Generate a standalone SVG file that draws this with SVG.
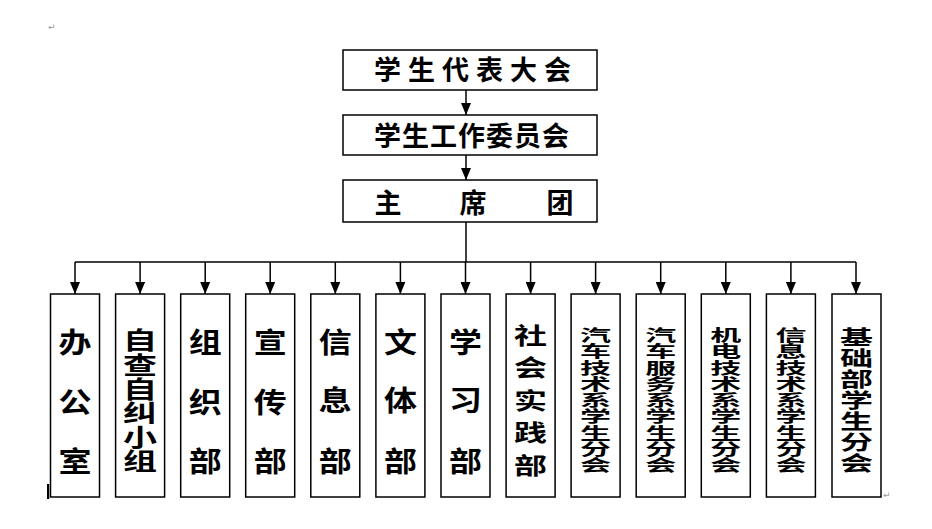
<svg xmlns="http://www.w3.org/2000/svg" width="932" height="529" viewBox="0 0 932 529">
<style>
.box{fill:#fff;stroke:#000;stroke-width:1.5}
.ln{fill:none;stroke:#000;stroke-width:1.5}
.t{font-family:"Noto Sans CJK SC","Noto Sans CJK JP",sans-serif;font-weight:bold;fill:#000}
.h{font-size:27px}
.v3{font-size:33px;text-anchor:middle}
.mk{font-family:"DejaVu Sans",sans-serif;font-size:9px;fill:#999}
</style>
<defs>
<marker id="ah" viewBox="0 0 12 10" refX="12" refY="5" markerWidth="12" markerHeight="10" markerUnits="userSpaceOnUse" orient="auto">
<path d="M0,0 L12,5 L0,10 z" fill="#000"/>
</marker>
</defs>
<rect width="932" height="529" fill="#fff"/>
<text class="mk" x="48" y="30">↵</text>
<text class="mk" x="883" y="498">↵</text>
<rect x="47" y="484" width="2.2" height="15" fill="#000"/>

<g id="connectors">
<line class="ln" x1="466" y1="90" x2="466" y2="115" marker-end="url(#ah)"/>
<line class="ln" x1="466" y1="155" x2="466" y2="180" marker-end="url(#ah)"/>
<line class="ln" x1="466" y1="222" x2="466" y2="262"/>
<line class="ln" x1="75" y1="262" x2="856" y2="262"/>
<line class="ln" x1="75" y1="262" x2="75" y2="294" marker-end="url(#ah)"/>
<line class="ln" x1="140.1" y1="262" x2="140.1" y2="294" marker-end="url(#ah)"/>
<line class="ln" x1="205.2" y1="262" x2="205.2" y2="294" marker-end="url(#ah)"/>
<line class="ln" x1="270.2" y1="262" x2="270.2" y2="294" marker-end="url(#ah)"/>
<line class="ln" x1="335.3" y1="262" x2="335.3" y2="294" marker-end="url(#ah)"/>
<line class="ln" x1="400.4" y1="262" x2="400.4" y2="294" marker-end="url(#ah)"/>
<line class="ln" x1="465.5" y1="262" x2="465.5" y2="294" marker-end="url(#ah)"/>
<line class="ln" x1="530.6" y1="262" x2="530.6" y2="294" marker-end="url(#ah)"/>
<line class="ln" x1="595.6" y1="262" x2="595.6" y2="294" marker-end="url(#ah)"/>
<line class="ln" x1="660.7" y1="262" x2="660.7" y2="294" marker-end="url(#ah)"/>
<line class="ln" x1="725.8" y1="262" x2="725.8" y2="294" marker-end="url(#ah)"/>
<line class="ln" x1="790.9" y1="262" x2="790.9" y2="294" marker-end="url(#ah)"/>
<line class="ln" x1="856" y1="262" x2="856" y2="294" marker-end="url(#ah)"/>
</g>

<g id="n-congress">
<rect class="box" x="343" y="50" width="254" height="40"/>
<text class="t h" x="374" y="80" letter-spacing="7">学生代表大会</text>
</g>
<g id="n-committee">
<rect class="box" x="343" y="115" width="254" height="40"/>
<text class="t h" x="374" y="146" letter-spacing="1">学生工作委员会</text>
</g>
<g id="n-presidium">
<rect class="box" x="343" y="180" width="254" height="42"/>
<text class="t h" x="388" y="213" text-anchor="middle">主</text>
<text class="t h" x="473" y="213" text-anchor="middle">席</text>
<text class="t h" x="560" y="213" text-anchor="middle">团</text>
</g>

<g id="n1">
<rect class="box" x="50.5" y="294" width="49" height="203"/>
<text class="t v3" transform="translate(75,353) scale(1,0.85)">办</text>
<text class="t v3" transform="translate(75,413) scale(1,0.85)">公</text>
<text class="t v3" transform="translate(75,472) scale(1,0.85)">室</text>
</g>
<g id="n2">
<rect class="box" x="115.6" y="294" width="49" height="203"/>
<text class="t" font-size="34" text-anchor="middle" transform="translate(140.1,349.3) scale(1,0.71)">自</text>
<text class="t" font-size="34" text-anchor="middle" transform="translate(140.1,373.5) scale(1,0.71)">查</text>
<text class="t" font-size="34" text-anchor="middle" transform="translate(140.1,397.6) scale(1,0.71)">自</text>
<text class="t" font-size="34" text-anchor="middle" transform="translate(140.1,421.8) scale(1,0.71)">纠</text>
<text class="t" font-size="34" text-anchor="middle" transform="translate(140.1,445.9) scale(1,0.71)">小</text>
<text class="t" font-size="34" text-anchor="middle" transform="translate(140.1,470.1) scale(1,0.71)">组</text>
</g>
<g id="n3">
<rect class="box" x="180.7" y="294" width="49" height="203"/>
<text class="t v3" transform="translate(205.2,353) scale(1,0.85)">组</text>
<text class="t v3" transform="translate(205.2,413) scale(1,0.85)">织</text>
<text class="t v3" transform="translate(205.2,472) scale(1,0.85)">部</text>
</g>
<g id="n4">
<rect class="box" x="245.7" y="294" width="49" height="203"/>
<text class="t v3" transform="translate(270.2,353) scale(1,0.85)">宣</text>
<text class="t v3" transform="translate(270.2,413) scale(1,0.85)">传</text>
<text class="t v3" transform="translate(270.2,472) scale(1,0.85)">部</text>
</g>
<g id="n5">
<rect class="box" x="310.8" y="294" width="49" height="203"/>
<text class="t v3" transform="translate(335.3,353) scale(1,0.85)">信</text>
<text class="t v3" transform="translate(335.3,411) scale(1,0.85)">息</text>
<text class="t v3" transform="translate(335.3,472) scale(1,0.85)">部</text>
</g>
<g id="n6">
<rect class="box" x="375.9" y="294" width="49" height="203"/>
<text class="t v3" transform="translate(400.4,353) scale(1,0.85)">文</text>
<text class="t v3" transform="translate(400.4,411) scale(1,0.85)">体</text>
<text class="t v3" transform="translate(400.4,472) scale(1,0.85)">部</text>
</g>
<g id="n7">
<rect class="box" x="441" y="294" width="49" height="203"/>
<text class="t v3" transform="translate(465.5,353) scale(1,0.85)">学</text>
<text class="t v3" transform="translate(465.5,411) scale(1,0.85)">习</text>
<text class="t v3" transform="translate(465.5,472) scale(1,0.85)">部</text>
</g>
<g id="n8">
<rect class="box" x="506.1" y="294" width="49" height="203"/>
<text class="t" font-size="33" text-anchor="middle" transform="translate(530.6,343.5) scale(1,0.68)">社</text>
<text class="t" font-size="33" text-anchor="middle" transform="translate(530.6,376) scale(1,0.68)">会</text>
<text class="t" font-size="33" text-anchor="middle" transform="translate(530.6,408.5) scale(1,0.68)">实</text>
<text class="t" font-size="33" text-anchor="middle" transform="translate(530.6,441) scale(1,0.68)">践</text>
<text class="t" font-size="33" text-anchor="middle" transform="translate(530.6,473.5) scale(1,0.68)">部</text>
</g>
<g id="n9">
<rect class="box" x="571.1" y="294" width="49" height="203"/>
<g class="t" font-size="31" text-anchor="middle">
<text transform="translate(595.6,341.1) scale(1,0.52)">汽</text>
<text transform="translate(595.6,357.4) scale(1,0.52)">车</text>
<text transform="translate(595.6,373.6) scale(1,0.52)">技</text>
<text transform="translate(595.6,389.9) scale(1,0.52)">术</text>
<text transform="translate(595.6,406.1) scale(1,0.52)">系</text>
<text transform="translate(595.6,422.4) scale(1,0.52)">学</text>
<text transform="translate(595.6,438.6) scale(1,0.52)">生</text>
<text transform="translate(595.6,454.9) scale(1,0.52)">分</text>
<text transform="translate(595.6,471.1) scale(1,0.52)">会</text>
</g>
</g>
<g id="n10">
<rect class="box" x="636.2" y="294" width="49" height="203"/>
<g class="t" font-size="31" text-anchor="middle">
<text transform="translate(660.7,341.1) scale(1,0.52)">汽</text>
<text transform="translate(660.7,357.4) scale(1,0.52)">车</text>
<text transform="translate(660.7,373.6) scale(1,0.52)">服</text>
<text transform="translate(660.7,389.9) scale(1,0.52)">务</text>
<text transform="translate(660.7,406.1) scale(1,0.52)">系</text>
<text transform="translate(660.7,422.4) scale(1,0.52)">学</text>
<text transform="translate(660.7,438.6) scale(1,0.52)">生</text>
<text transform="translate(660.7,454.9) scale(1,0.52)">分</text>
<text transform="translate(660.7,471.1) scale(1,0.52)">会</text>
</g>
</g>
<g id="n11">
<rect class="box" x="701.3" y="294" width="49" height="203"/>
<g class="t" font-size="31" text-anchor="middle">
<text transform="translate(725.8,341.1) scale(1,0.52)">机</text>
<text transform="translate(725.8,357.4) scale(1,0.52)">电</text>
<text transform="translate(725.8,373.6) scale(1,0.52)">技</text>
<text transform="translate(725.8,389.9) scale(1,0.52)">术</text>
<text transform="translate(725.8,406.1) scale(1,0.52)">系</text>
<text transform="translate(725.8,422.4) scale(1,0.52)">学</text>
<text transform="translate(725.8,438.6) scale(1,0.52)">生</text>
<text transform="translate(725.8,454.9) scale(1,0.52)">分</text>
<text transform="translate(725.8,471.1) scale(1,0.52)">会</text>
</g>
</g>
<g id="n12">
<rect class="box" x="766.4" y="294" width="49" height="203"/>
<g class="t" font-size="31" text-anchor="middle">
<text transform="translate(790.9,341.1) scale(1,0.52)">信</text>
<text transform="translate(790.9,357.4) scale(1,0.52)">息</text>
<text transform="translate(790.9,373.6) scale(1,0.52)">技</text>
<text transform="translate(790.9,389.9) scale(1,0.52)">术</text>
<text transform="translate(790.9,406.1) scale(1,0.52)">系</text>
<text transform="translate(790.9,422.4) scale(1,0.52)">学</text>
<text transform="translate(790.9,438.6) scale(1,0.52)">生</text>
<text transform="translate(790.9,454.9) scale(1,0.52)">分</text>
<text transform="translate(790.9,471.1) scale(1,0.52)">会</text>
</g>
</g>
<g id="n13">
<rect class="box" x="832" y="294" width="49" height="203"/>
<g class="t" font-size="33" text-anchor="middle">
<text transform="translate(856.5,345.3) scale(1,0.63)">基</text>
<text transform="translate(856.5,366.2) scale(1,0.63)">础</text>
<text transform="translate(856.5,387) scale(1,0.63)">部</text>
<text transform="translate(856.5,407.9) scale(1,0.63)">学</text>
<text transform="translate(856.5,428.8) scale(1,0.63)">生</text>
<text transform="translate(856.5,449.7) scale(1,0.63)">分</text>
<text transform="translate(856.5,470.5) scale(1,0.63)">会</text>
</g>
</g>
</svg>
